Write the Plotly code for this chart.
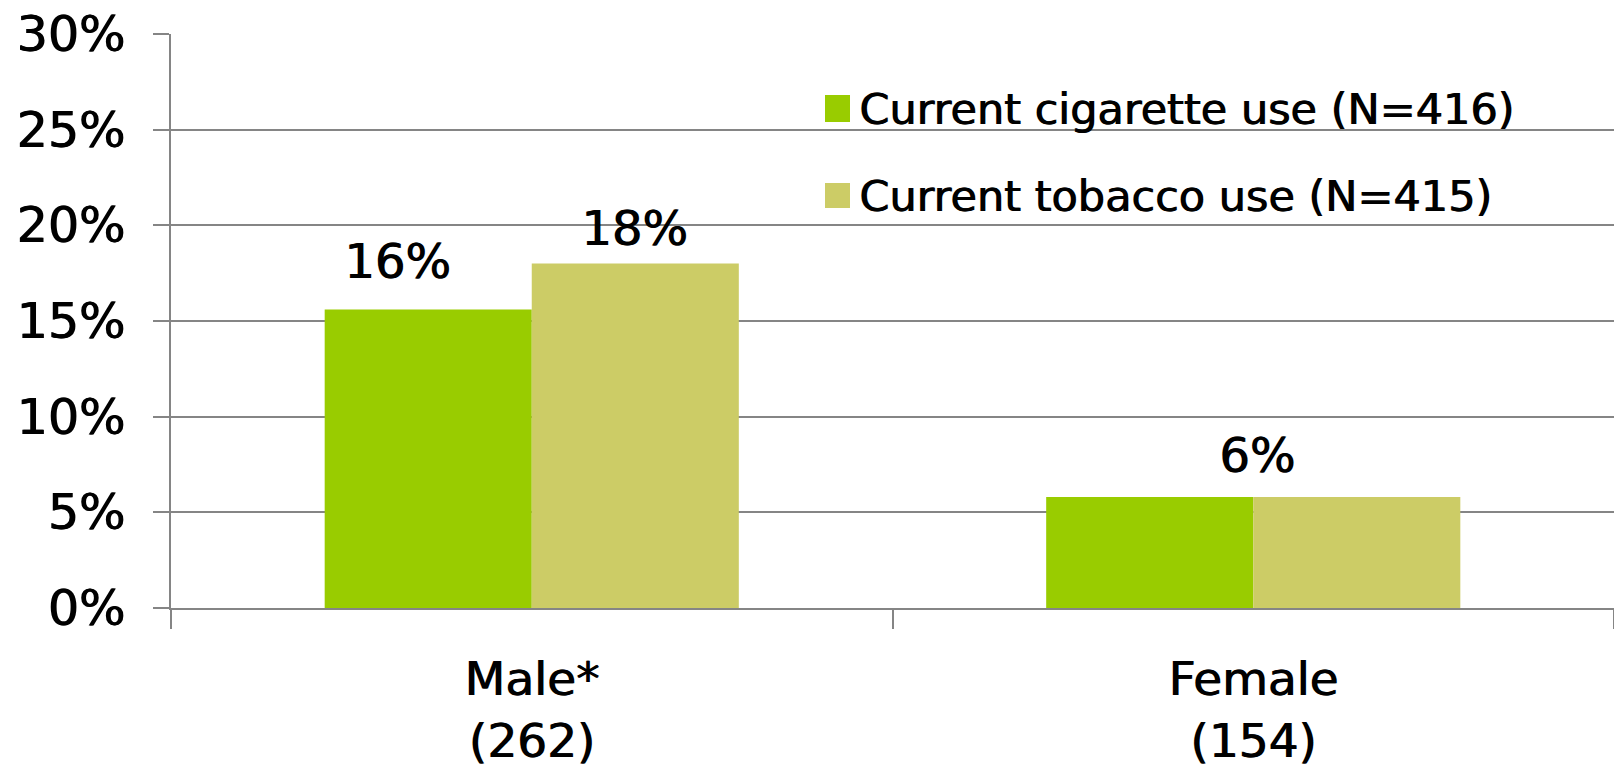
import plotly.graph_objects as go

# ---- data -------------------------------------------------------------
categories = ["Male*<br>(262)", "Female<br>(154)"]
series_names = ["Current cigarette use (N=416)", "Current tobacco use (N=415)"]
cigarette_use = [0.156, 0.058]
tobacco_use = [0.180, 0.058]
y_tick_values = [0, 0.05, 0.10, 0.15, 0.20, 0.25, 0.30]
y_tick_labels = ["0%", "5%", "10%", "15%", "20%", "25%", "30%"]

# ---- styling ----------------------------------------------------------
COLORS = ["#99CC00", "#CCCC66"]
GRID = "#858585"
FONT = "DejaVu Sans"
HEAVY = "1px 0px 0px #000"   # slightly heavier strokes for all labels
W, H = 1614, 770
ML, MR, MT, MB = 171, 0, 34, 162
PW, PH = W - ML - MR, H - MT - MB


def paper_x(px):
    return (px - ML) / PW


def paper_y(py):
    return (H - MB - py) / PH


def font(size):
    return dict(family=FONT, size=size, color="black", shadow=HEAVY)


fig = go.Figure()
for name, vals, col in zip(series_names, [cigarette_use, tobacco_use], COLORS):
    fig.add_trace(go.Bar(
        x=categories, y=vals, name=name,
        marker=dict(color=col, line=dict(width=0)),
        showlegend=False, hoverinfo="skip",
    ))

# value labels above the bars: (category, value, horizontal shift, lift)
value_labels = [
    (categories[0], cigarette_use[0], -134, 19),
    (categories[0], tobacco_use[0], 103, 6),
    (categories[1], tobacco_use[1], 4, 12),
]
annotations = []
for cat, v, dx, dy in value_labels:
    annotations.append(dict(
        x=cat, y=v, xref="x", yref="y", text=f"{round(v * 100)}%",
        showarrow=False, yanchor="bottom", xanchor="center",
        xshift=dx, yshift=dy, font=font(48),
    ))

# legend drawn as swatches plus text
shapes = []
legend_rows = [(95, 122), (183, 208)]
for name, col, (top, bottom) in zip(series_names, COLORS, legend_rows):
    shapes.append(dict(
        type="rect", xref="paper", yref="paper",
        x0=paper_x(825), x1=paper_x(850), y0=paper_y(bottom), y1=paper_y(top),
        fillcolor=col, line=dict(width=0),
    ))
    annotations.append(dict(
        x=paper_x(857), y=paper_y((top + bottom) / 2 + 1), xref="paper", yref="paper",
        text=name, showarrow=False, xanchor="left", yanchor="middle",
        font=font(43),
    ))

fig.update_layout(
    width=W, height=H,
    margin=dict(l=ML, r=MR, t=MT, b=MB, pad=0),
    paper_bgcolor="white", plot_bgcolor="white",
    barmode="group", bargap=0.426, bargroupgap=0,
    font=font(47),
    annotations=annotations, shapes=shapes,
    xaxis=dict(
        showline=True, linecolor=GRID, linewidth=2,
        ticks="outside", tickson="boundaries", ticklen=19, tickwidth=2, tickcolor=GRID,
        showgrid=False, tickfont=font(47),
        ticklabelstandoff=29,
    ),
    yaxis=dict(
        range=[0, 0.30], tickvals=y_tick_values, ticktext=y_tick_labels,
        showgrid=True, gridcolor=GRID, gridwidth=2, zeroline=False,
        showline=True, linecolor=GRID, linewidth=2,
        ticks="outside", ticklen=16, tickwidth=2, tickcolor=GRID,
        tickfont=font(49),
        ticklabelstandoff=18,
    ),
)

fig.write_html("out.html")
